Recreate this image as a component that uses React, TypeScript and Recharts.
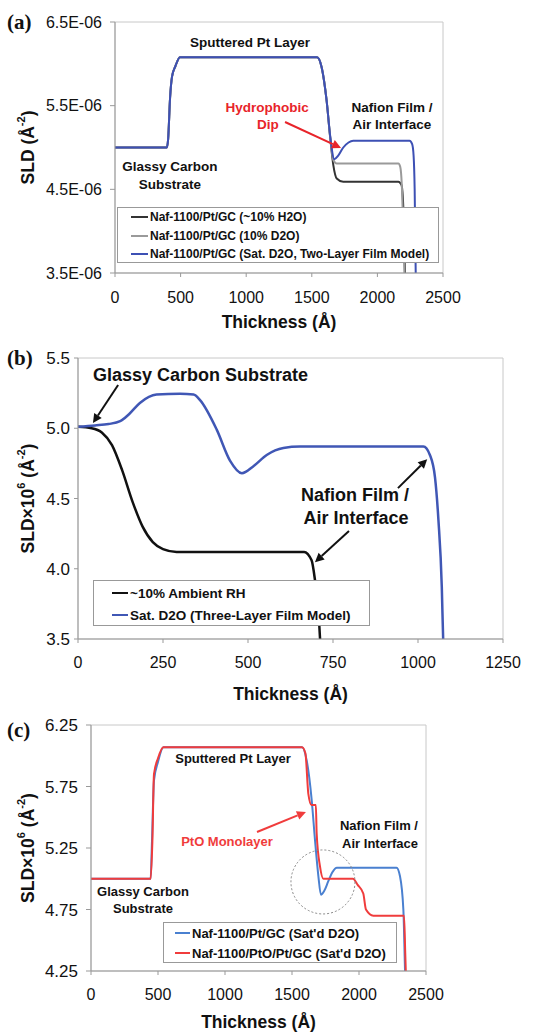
import React from "react";
import {
  Legend,
  Line,
  LineChart,
  ReferenceArea,
  ReferenceDot,
  ReferenceLine,
  XAxis,
  YAxis,
} from "recharts";

const FONT = '"Liberation Sans", Arial, Helvetica, sans-serif';

type Pt = [number, number];

// (a) SLD in units of 1E-06 Å^-2 vs thickness in Å
const thicknessTicksA = [0, 500, 1000, 1500, 2000, 2500];
const sldTicksA = [3.5, 4.5, 5.5, 6.5];
const namesA = [
  "Naf-1100/Pt/GC (~10% H2O)",
  "Naf-1100/Pt/GC (10% D2O)",
  "Naf-1100/Pt/GC (Sat. D2O, Two-Layer Film Model)",
];
const h2oA: Pt[] = [
  [0, 5.0], [395, 5.0], [405, 5.1], [420, 5.6], [435, 5.85], [460, 5.97], [495, 6.08],
  [1540, 6.08], [1575, 5.96], [1613, 5.56], [1640, 5.12], [1664, 4.79], [1690, 4.63],
  [1740, 4.59], [2160, 4.59], [2184, 4.55], [2197, 4.3], [2210, 3.5], [2214, 3.2],
];
const d2oA: Pt[] = [
  [0, 5.0], [395, 5.0], [405, 5.1], [420, 5.6], [435, 5.85], [460, 5.97], [495, 6.08],
  [1540, 6.08], [1575, 5.96], [1613, 5.56], [1640, 5.13], [1664, 4.85], [1690, 4.81],
  [2160, 4.81], [2174, 4.77], [2186, 4.55], [2198, 3.95], [2212, 3.2],
];
const satA: Pt[] = [
  [0, 5.0], [395, 5.0], [405, 5.1], [420, 5.6], [435, 5.85], [460, 5.97], [495, 6.08],
  [1540, 6.08], [1575, 5.96], [1613, 5.56], [1640, 5.14], [1672, 4.86], [1700, 4.9],
  [1740, 5.0], [1780, 5.06], [1816, 5.08], [2245, 5.08], [2265, 5.04], [2276, 4.9],
  [2284, 4.5], [2292, 3.5], [2296, 3.2],
];

// (b) SLD x10^6 (Å^-2) vs thickness in Å
const thicknessTicksB = [0, 250, 500, 750, 1000, 1250];
const sldTicksB = [3.5, 4.0, 4.5, 5.0, 5.5];
const namesB = ["~10% Ambient RH", "Sat. D2O (Three-Layer Film Model)"];
const ambientB: Pt[] = [
  [0, 5.01], [40, 5.0], [70, 4.97], [100, 4.88], [130, 4.7], [160, 4.48], [190, 4.3],
  [220, 4.19], [250, 4.14], [290, 4.12], [665, 4.12], [687, 4.06], [697, 3.92],
  [707, 3.71], [712, 3.5], [715, 3.4],
];
const satB: Pt[] = [
  [0, 5.01], [50, 5.02], [90, 5.03], [124, 5.05], [150, 5.1], [182, 5.18], [231, 5.24],
  [300, 5.245], [340, 5.24], [359, 5.2], [408, 4.99], [447, 4.77], [482, 4.68],
  [516, 4.73], [555, 4.81], [604, 4.86], [653, 4.87], [1016, 4.87], [1035, 4.81],
  [1050, 4.65], [1060, 4.35], [1070, 3.87], [1074, 3.5], [1076, 3.4],
];

// (c) SLD x10^6 (Å^-2) vs thickness in Å
const thicknessTicksC = [0, 500, 1000, 1500, 2000, 2500];
const sldTicksC = [4.25, 4.75, 5.25, 5.75, 6.25];
const namesC = ["Naf-1100/Pt/GC (Sat'd D2O)", "Naf-1100/PtO/Pt/GC (Sat'd D2O)"];
const ptC: Pt[] = [
  [0, 5.0], [445, 5.0], [455, 5.3], [470, 5.8], [500, 5.95], [540, 6.07], [1575, 6.07],
  [1610, 5.96], [1647, 5.64], [1672, 5.31], [1697, 5.02], [1716, 4.87], [1740, 4.9],
  [1771, 4.98], [1800, 5.05], [1835, 5.09], [2280, 5.09], [2306, 5.02], [2331, 4.75],
  [2343, 4.27], [2346, 4.15],
];
const ptoC: Pt[] = [
  [0, 5.0], [445, 5.0], [458, 5.3], [470, 5.85], [500, 5.98], [540, 6.07], [1575, 6.07],
  [1600, 6.02], [1622, 5.69], [1645, 5.6], [1678, 5.6], [1684, 5.37], [1709, 5.1],
  [1734, 5.0], [1955, 5.0], [1990, 4.95], [2032, 4.88], [2052, 4.75], [2107, 4.7],
  [2336, 4.7], [2345, 4.4], [2352, 4.15],
];

const rows = (pts: Pt[]) => pts.map(([t, v]) => ({ t, v }));

const note = (
  key: string,
  x: number,
  y: number,
  text: string,
  size = 13.5,
  color = "#111",
  anchor: "start" | "middle" = "middle"
) => (
  <ReferenceDot
    key={key}
    x={x}
    y={y}
    r={0}
    ifOverflow="visible"
    shape={(p: any) => (
      <text
        x={p.cx}
        y={p.cy}
        textAnchor={anchor}
        dominantBaseline="central"
        fontSize={size}
        fontWeight="bold"
        fill={color}
      >
        {text}
      </text>
    )}
  />
);

const arrow = (key: string, x1: number, y1: number, x2: number, y2: number, color: string, w = 2) => (
  <ReferenceLine
    key={key}
    segment={[{ x: x1, y: y1 }, { x: x2, y: y2 }]}
    ifOverflow="visible"
    shape={(p: any) => {
      const dx = p.x2 - p.x1;
      const dy = p.y2 - p.y1;
      const len = Math.hypot(dx, dy) || 1;
      const ux = dx / len;
      const uy = dy / len;
      const bx = p.x2 - ux * 9;
      const by = p.y2 - uy * 9;
      return (
        <g>
          <line x1={p.x1} y1={p.y1} x2={bx} y2={by} stroke={color} strokeWidth={w} />
          <polygon
            points={`${p.x2},${p.y2} ${bx - uy * 4.5},${by + ux * 4.5} ${bx + uy * 4.5},${by - ux * 4.5}`}
            fill={color}
          />
        </g>
      );
    }}
  />
);

const yTitle = (x: number, body: React.ReactNode) => (props: any) => {
  const vb = props.viewBox;
  const cy = vb.y + vb.height / 2;
  return (
    <text
      transform={`translate(${x},${cy}) rotate(-90)`}
      textAnchor="middle"
      dominantBaseline="central"
      fontSize={17.5}
      fontWeight="bold"
      fill="#111"
    >
      {body}
    </text>
  );
};

// legend box drawn in the order of the series names given
const legendBox = (order: string[], padL: number, lineW: number, rowH: number, padT: number, fontSize: number) => (props: any) => {
  const items = [...(props.payload || [])].sort(
    (a: any, b: any) => order.indexOf(a.value) - order.indexOf(b.value)
  );
  return (
    <div
      style={{
        boxSizing: "border-box",
        width: "100%",
        height: "100%",
        border: "1px solid #999",
        background: "#fff",
        paddingLeft: padL,
        paddingTop: padT,
      }}
    >
      {items.map((e: any) => (
        <div key={e.value} style={{ display: "flex", alignItems: "center", height: rowH }}>
          <span style={{ width: lineW, height: 2, background: e.color, marginRight: 2 }} />
          <span style={{ fontSize, fontWeight: "bold", color: "#111", whiteSpace: "nowrap" }}>{e.value}</span>
        </div>
      ))}
    </div>
  );
};

const panelTag = (top: number, text: string) => (
  <div
    style={{
      position: "absolute",
      left: 7,
      top,
      lineHeight: "24px",
      fontFamily: '"Liberation Serif", "Times New Roman", serif',
      fontWeight: "bold",
      fontSize: 21,
      color: "#111",
    }}
  >
    {text}
  </div>
);

const axisTitle = { value: "Thickness (Å)", position: "insideBottom" as const, fontSize: 17.5, fontWeight: "bold", fill: "#111" };

const sldScaled = (
  <>
    SLD×10<tspan dy={-7} fontSize={11}>6</tspan>
    <tspan dy={7}> (Å</tspan>
    <tspan dy={-7} fontSize={11}>-2</tspan>
    <tspan dy={7}>)</tspan>
  </>
);

export default function App() {
  return (
    <div style={{ position: "absolute", left: 0, top: 0, width: 540, height: 1033, background: "#fff", fontFamily: FONT }}>
      {/* (a) */}
      <div style={{ position: "absolute", left: 0, top: 0 }}>
        <LineChart width={540} height={340} margin={{ top: 22, right: 97, bottom: 0, left: 0 }}>
          <ReferenceArea x1={0} x2={2500} y1={3.5} y2={6.5} fill="none" stroke="#c8c8c8" ifOverflow="visible" />
          <XAxis
            type="number"
            dataKey="t"
            domain={[0, 2500]}
            ticks={thicknessTicksA}
            interval={0}
            allowDataOverflow
            height={67}
            tickSize={4}
            tickMargin={15}
            stroke="#999"
            tick={{ fontSize: 16, fill: "#111" }}
            label={{ ...axisTitle, offset: 12 }}
          />
          <YAxis
            type="number"
            domain={[3.5, 6.5]}
            ticks={sldTicksA}
            interval={0}
            allowDataOverflow
            width={115}
            tickSize={5}
            tickMargin={8}
            stroke="#999"
            tick={{ fontSize: 16, fill: "#111" }}
            tickFormatter={(v: number) => `${v.toFixed(1)}E-06`}
            label={{
              content: yTitle(28, (
                <>
                  SLD (Å<tspan dy={-7} fontSize={11}>-2</tspan>
                  <tspan dy={7}>)</tspan>
                </>
              )),
            }}
          />
          <Line data={rows(h2oA)} dataKey="v" name={namesA[0]} type="monotone" stroke="#333" strokeWidth={2} dot={false} activeDot={false} isAnimationActive={false} />
          <Line data={rows(d2oA)} dataKey="v" name={namesA[1]} type="monotone" stroke="#9a9a9a" strokeWidth={2} dot={false} activeDot={false} isAnimationActive={false} />
          <Line data={rows(satA)} dataKey="v" name={namesA[2]} type="monotone" stroke="#3d50b4" strokeWidth={2} dot={false} activeDot={false} isAnimationActive={false} />
          {note("a1", 1029, 6.25, "Sputtered Pt Layer")}
          {note("a2", 1159, 5.484, "Hydrophobic", 13.5, "#e8242a")}
          {note("a3", 1166, 5.27, "Dip", 13.5, "#e8242a")}
          {arrow("a4", 1296, 5.305, 1723, 4.995, "#e8242a")}
          {note("a5", 2111, 5.484, "Nafion Film /")}
          {note("a6", 2111, 5.27, "Air Interface")}
          {note("a7", 419, 4.768, "Glassy Carbon")}
          {note("a8", 419, 4.553, "Substrate")}
          <Legend
            layout="horizontal"
            verticalAlign="middle"
            align="center"
            wrapperStyle={{ left: 117, top: 207, width: 322, height: 56 }}
            content={legendBox(namesA, 13, 17, 18.5, 0, 12)}
          />
        </LineChart>
      </div>
      {panelTag(10, "(a)")}

      {/* (b) */}
      <div style={{ position: "absolute", left: 0, top: 330 }}>
        <LineChart width={540} height={380} margin={{ top: 28, right: 37, bottom: 0, left: 0 }}>
          <ReferenceArea x1={0} x2={1250} y1={3.5} y2={5.5} fill="none" stroke="#c8c8c8" ifOverflow="visible" />
          <XAxis
            type="number"
            dataKey="t"
            domain={[0, 1250]}
            ticks={thicknessTicksB}
            interval={0}
            allowDataOverflow
            height={71}
            tickSize={4}
            tickMargin={14}
            stroke="#999"
            tick={{ fontSize: 16, fill: "#111" }}
            label={{ ...axisTitle, offset: 10 }}
          />
          <YAxis
            type="number"
            domain={[3.5, 5.5]}
            ticks={sldTicksB}
            interval={0}
            allowDataOverflow
            width={78}
            tickSize={4}
            tickMargin={4}
            stroke="#999"
            tick={{ fontSize: 17, fill: "#111" }}
            tickFormatter={(v: number) => v.toFixed(1)}
            label={{ content: yTitle(28, sldScaled) }}
          />
          <Line data={rows(ambientB)} dataKey="v" name={namesB[0]} type="monotone" stroke="#111" strokeWidth={2.5} dot={false} activeDot={false} isAnimationActive={false} />
          <Line data={rows(satB)} dataKey="v" name={namesB[1]} type="monotone" stroke="#4057b5" strokeWidth={2.5} dot={false} activeDot={false} isAnimationActive={false} />
          {note("b1", 44, 5.379, "Glassy Carbon Substrate", 18, "#111", "start")}
          {arrow("b2", 118, 5.308, 44, 5.037, "#111")}
          {note("b3", 815, 4.524, "Nafion Film /", 18)}
          {note("b4", 818, 4.36, "Air Interface", 18)}
          {arrow("b5", 941, 4.574, 1027, 4.78, "#111")}
          {arrow("b6", 797, 4.268, 697, 4.047, "#111")}
          <Legend
            layout="horizontal"
            verticalAlign="middle"
            align="center"
            wrapperStyle={{ left: 93, top: 250, width: 277, height: 46 }}
            content={legendBox(namesB, 18, 16, 22, 1, 13.5)}
          />
        </LineChart>
      </div>
      {panelTag(346, "(b)")}

      {/* (c) */}
      <div style={{ position: "absolute", left: 0, top: 710 }}>
        <LineChart width={540} height={323} margin={{ top: 15, right: 114, bottom: 0, left: 0 }}>
          <ReferenceArea x1={0} x2={2500} y1={4.25} y2={6.25} fill="none" stroke="#c8c8c8" ifOverflow="visible" />
          <XAxis
            type="number"
            dataKey="t"
            domain={[0, 2500]}
            ticks={thicknessTicksC}
            interval={0}
            allowDataOverflow
            height={62}
            tickSize={4}
            tickMargin={14}
            stroke="#999"
            tick={{ fontSize: 16, fill: "#111" }}
            label={{ ...axisTitle, offset: 5 }}
          />
          <YAxis
            type="number"
            domain={[4.25, 6.25]}
            ticks={sldTicksC}
            interval={0}
            allowDataOverflow
            width={91}
            tickSize={5}
            tickMargin={8}
            stroke="#999"
            tick={{ fontSize: 17, fill: "#111" }}
            tickFormatter={(v: number) => v.toFixed(2)}
            label={{ content: yTitle(28, sldScaled) }}
          />
          <Line data={rows(ptC)} dataKey="v" name={namesC[0]} type="monotone" stroke="#4a80d0" strokeWidth={2} dot={false} activeDot={false} isAnimationActive={false} />
          <Line data={rows(ptoC)} dataKey="v" name={namesC[1]} type="monotone" stroke="#f03c3c" strokeWidth={2} dot={false} activeDot={false} isAnimationActive={false} />
          {note("c1", 1060, 5.974, "Sputtered Pt Layer", 13)}
          {note("c2", 1015, 5.299, "PtO Monolayer", 13, "#f03c3c")}
          {arrow("c3", 1239, 5.38, 1604, 5.543, "#f03c3c")}
          {note("c4", 2149, 5.429, "Nafion Film /", 13)}
          {note("c5", 2157, 5.29, "Air Interface", 13)}
          {note("c6", 388, 4.9, "Glassy Carbon", 13)}
          {note("c7", 388, 4.762, "Substrate", 13)}
          <ReferenceDot x={1731} y={4.974} r={32} fill="none" stroke="#888" strokeDasharray="2 2" ifOverflow="visible" />
          <Legend
            layout="horizontal"
            verticalAlign="middle"
            align="center"
            wrapperStyle={{ left: 163, top: 212, width: 234, height: 41 }}
            content={legendBox(namesC, 11, 15, 20, 0, 13)}
          />
        </LineChart>
      </div>
      {panelTag(718, "(c)")}
    </div>
  );
}
